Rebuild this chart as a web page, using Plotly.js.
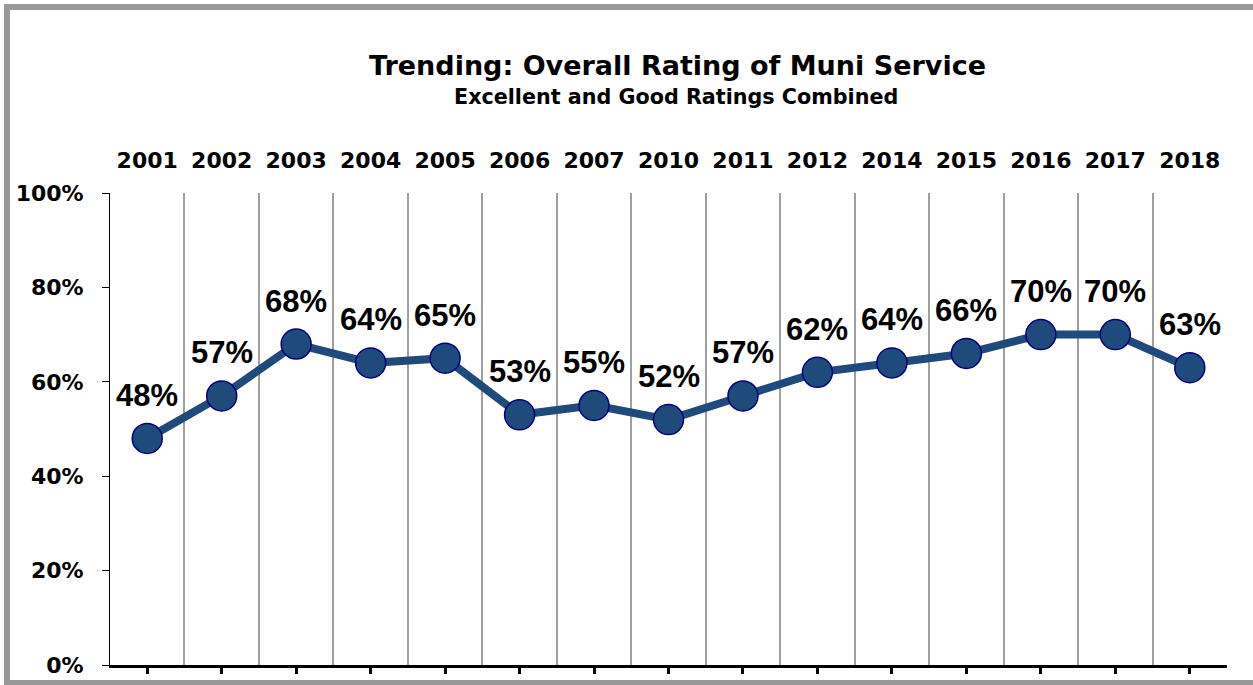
<!DOCTYPE html>
<html>
<head>
<meta charset="utf-8">
<script src="https://cdn.plot.ly/plotly-3.0.1.min.js"></script>
<style>
  html, body { margin: 0; padding: 0; background: #ffffff; overflow: hidden; }
  #wrap { position: relative; width: 1253px; height: 685px; overflow: hidden; }
  #chart { position: absolute; left: 0; top: 0; width: 1253px; height: 685px; }
  #frame { position: absolute; left: 4px; top: 4px; width: 1249px; height: 682px;
           box-sizing: border-box; border: 6px solid #999999; border-right: none; pointer-events: none; }
</style>
</head>
<body>
<div id="wrap">
  <div id="chart"></div>
  <div id="frame"></div>
</div>
<script>
// Survey years (categories)
var years = ["2001","2002","2003","2004","2005","2006","2007","2010","2011","2012","2014","2015","2016","2017","2018"];
// Excellent + Good combined rating, percent
var ratings = [48, 57, 68, 64, 65, 53, 55, 52, 57, 62, 64, 66, 70, 70, 63];
// Y axis ticks
var yTicks = [0, 20, 40, 60, 80, 100];

var titleText = "Trending: Overall Rating of Muni Service";
var subtitleText = "Excellent and Good Ratings Combined";

var labelFont = "DejaVu Sans, Verdana, sans-serif";
var dataFont = "Liberation Sans, Arial, sans-serif";

var mainTrace = {
  x: years,
  y: ratings,
  type: "scatter",
  mode: "lines+markers",
  line: { color: "#1F4A7C", width: 8 },
  marker: { size: 30, color: "#1F4A7C", line: { color: "#00007F", width: 1.5 } },
  cliponaxis: false,
  hoverinfo: "skip",
  showlegend: false
};

// invisible trace to anchor the bottom axis
var axisTrace = {
  x: years,
  y: ratings,
  xaxis: "x2",
  type: "scatter",
  mode: "lines",
  line: { width: 0 },
  opacity: 0,
  hoverinfo: "skip",
  showlegend: false
};

// data labels placed above each point (category axis: position by category index)
var dataLabels = years.map(function (yr, i) {
  return {
    x: i, y: ratings[i], xref: "x", yref: "y",
    text: ratings[i] + "%",
    showarrow: false,
    xanchor: "center", yanchor: "middle",
    yshift: 43,
    font: { family: dataFont, size: 31, color: "#000000", weight: "bold" }
  };
});

var layout = {
  width: 1253,
  height: 685,
  margin: { l: 110, r: 26, t: 193, b: 20 },
  paper_bgcolor: "#ffffff",
  plot_bgcolor: "#ffffff",
  showlegend: false,
  xaxis: {
    type: "category",
    side: "top",
    range: [-0.5, years.length - 0.5],
    tickson: "boundaries",
    showgrid: true,
    gridcolor: "#a0a0a0",
    gridwidth: 2,
    ticks: "",
    showline: false,
    zeroline: false,
    ticklabelstandoff: 20,
    tickfont: { family: labelFont, size: 22, color: "#000000", weight: "bold" },
    fixedrange: true
  },
  xaxis2: {
    type: "category",
    overlaying: "x",
    matches: "x",
    side: "bottom",
    showticklabels: false,
    showgrid: false,
    ticks: "outside",
    ticklen: 6,
    tickwidth: 3,
    tickcolor: "#000000",
    showline: true,
    linecolor: "#000000",
    linewidth: 3,
    zeroline: false,
    fixedrange: true
  },
  yaxis: {
    range: [0, 100],
    tickvals: yTicks,
    ticktext: yTicks.map(function (v) { return v + "%"; }),
    showgrid: false,
    zeroline: false,
    showline: true,
    linecolor: "#000000",
    linewidth: 1,
    ticks: "outside",
    ticklen: 7,
    tickwidth: 1,
    tickcolor: "#000000",
    ticklabelstandoff: 14,
    tickfont: { family: labelFont, size: 22, color: "#000000", weight: "bold" },
    fixedrange: true
  },
  annotations: [
    {
      text: titleText,
      xref: "paper", yref: "paper",
      x: (677 - 110) / 1117, y: (665 - 66) / 472,
      xanchor: "center", yanchor: "middle",
      showarrow: false,
      font: { family: labelFont, size: 27, color: "#000000", weight: "bold" }
    },
    {
      text: subtitleText,
      xref: "paper", yref: "paper",
      x: (676 - 110) / 1117, y: (665 - 97) / 472,
      xanchor: "center", yanchor: "middle",
      showarrow: false,
      font: { family: labelFont, size: 20.7, color: "#000000", weight: "bold" }
    }
  ].concat(dataLabels)
};

Plotly.newPlot("chart", [mainTrace, axisTrace], layout, { displayModeBar: false, staticPlot: true });
</script>
</body>
</html>
